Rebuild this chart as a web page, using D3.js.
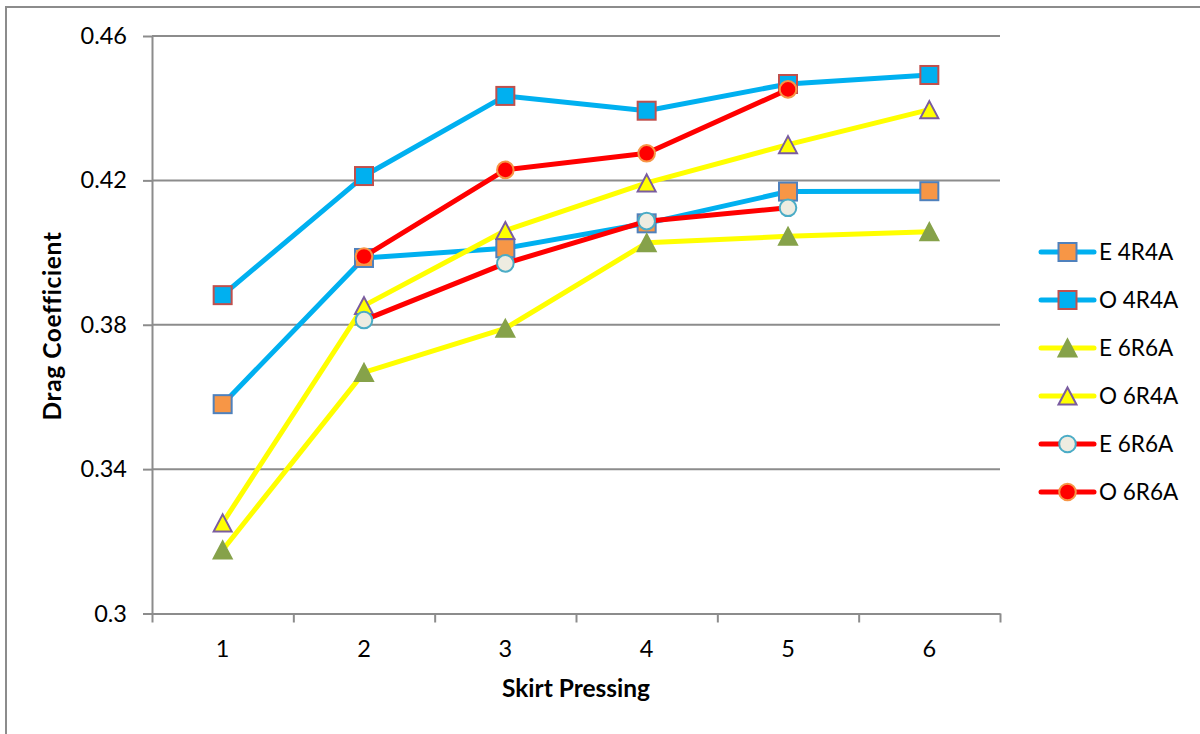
<!DOCTYPE html>
<html>
<head>
<meta charset="utf-8">
<script src="https://cdn.jsdelivr.net/npm/d3@7"></script>
<style>
  html, body { margin: 0; padding: 0; background: #fff; }
  svg { display: block; font-family: Lato, "Open Sans", sans-serif; }
</style>
</head>
<body>
<svg id="chart" width="1200" height="734"></svg>
<script>
// Skirt pressing levels on the x axis
const categories = [1, 2, 3, 4, 5, 6];

// Drag coefficient per series (null = not measured)
const e4R4A     = [0.358, 0.3985, 0.4012, 0.4081, 0.4169, 0.417];
const o4R4A     = [0.3882, 0.4212, 0.4434, 0.4393, 0.4467, 0.4492];
const e6R6Atri  = [0.3176, 0.3668, 0.379, 0.4027, 0.4045, 0.4058];
const o6R4A     = [0.3251, 0.3853, 0.4061, 0.4193, 0.4299, 0.4396];
const e6R6Acirc = [null, 0.3813, 0.397, 0.4087, 0.4124, null];
const o6R6A     = [null, 0.3989, 0.4229, 0.4275, 0.4452, null];

const yTicks = [0.3, 0.34, 0.38, 0.42, 0.46];
const yTickLabels = ["0.3", "0.34", "0.38", "0.42", "0.46"];

const seriesNames = ["E 4R4A", "O 4R4A", "E 6R6A", "O 6R4A", "E 6R6A", "O 6R6A"];
const seriesValues = [e4R4A, o4R4A, e6R6Atri, o6R4A, e6R6Acirc, o6R6A];

// Styling per series
const styles = [
  { line: "#00B0F0", shape: "square",   fill: "#F79646", stroke: "#4F81BD" },
  { line: "#00B0F0", shape: "square",   fill: "#00B0F0", stroke: "#C0504D" },
  { line: "#FFFF00", shape: "triangle", fill: "#86A24A", stroke: "#86A24A" },
  { line: "#FFFF00", shape: "triangle", fill: "#FFFF00", stroke: "#7A5CA0" },
  { line: "#FF0000", shape: "circle",   fill: "#EEECE1", stroke: "#4BACC6" },
  { line: "#FF0000", shape: "circle",   fill: "#FF0000", stroke: "#F79646" }
];

const svg = d3.select("#chart");
const grey = "#8c8c8c";

// outer chart frame
svg.append("rect")
  .attr("x", 6).attr("y", 7).attr("width", 1220).attr("height", 760)
  .attr("fill", "none").attr("stroke", grey).attr("stroke-width", 2);

const plot = { left: 152, right: 1000, top: 36, bottom: 613.5 };

const x = d3.scaleBand().domain(categories).range([plot.left, plot.right]).padding(0);
const xEdge = d3.scaleLinear().domain([0, categories.length]).range([plot.left, plot.right]);
const y = d3.scaleLinear().domain([0.3, 0.46]).range([plot.bottom, plot.top]);
const cx = d => x(d) + x.bandwidth() / 2;

// horizontal gridlines
svg.append("g").selectAll("line")
  .data(yTicks.filter(t => t > 0.3))
  .join("line")
  .attr("x1", plot.left).attr("x2", plot.right)
  .attr("y1", d => y(d)).attr("y2", d => y(d))
  .attr("stroke", grey).attr("stroke-width", 2);

// y axis
const yAxis = svg.append("g")
  .attr("transform", `translate(${plot.left},0)`)
  .call(d3.axisLeft(y).tickValues(yTicks)
    .tickFormat((d, i) => yTickLabels[i])
    .tickSize(9).tickPadding(16).tickSizeOuter(0));
yAxis.select(".domain").attr("stroke", grey).attr("stroke-width", 2);
yAxis.selectAll(".tick line").attr("stroke", grey).attr("stroke-width", 2);
yAxis.selectAll("text").attr("font-size", 23.5).attr("fill", "#000")
  .attr("font-family", "Lato, sans-serif");

// x axis: ticks on category boundaries
const xTickAxis = svg.append("g")
  .attr("transform", `translate(0,${plot.bottom})`)
  .call(d3.axisBottom(xEdge).tickValues(d3.range(categories.length + 1))
    .tickFormat("").tickSize(9).tickSizeOuter(0));
xTickAxis.select(".domain").attr("stroke", grey).attr("stroke-width", 2);
xTickAxis.selectAll(".tick line").attr("stroke", grey).attr("stroke-width", 2);

// x axis labels at category centres
const xLabelAxis = svg.append("g")
  .attr("transform", `translate(0,${plot.bottom})`)
  .call(d3.axisBottom(x).tickSize(0).tickPadding(26.5));
xLabelAxis.select(".domain").remove();
xLabelAxis.selectAll("text").attr("font-size", 23.5).attr("fill", "#000")
  .attr("font-family", "Lato, sans-serif");

// axis titles
svg.append("text")
  .attr("x", (plot.left + plot.right) / 2).attr("y", 697)
  .attr("text-anchor", "middle")
  .attr("font-size", 24.5).attr("font-weight", "bold")
  .text("Skirt Pressing");

svg.append("text")
  .attr("transform", "translate(61,326) rotate(-90)")
  .attr("text-anchor", "middle")
  .attr("font-size", 24.5).attr("font-weight", "bold")
  .attr("letter-spacing", 0.6)
  .text("Drag Coefficient");

// marker drawing
function drawMarker(g, shape, st) {
  if (shape === "square") {
    g.append("rect").attr("x", -9).attr("y", -9).attr("width", 18).attr("height", 18)
      .attr("fill", st.fill).attr("stroke", st.stroke).attr("stroke-width", 2);
  } else if (shape === "triangle") {
    g.append("path").attr("d", "M0,-8.5L9,8.5L-9,8.5Z")
      .attr("fill", st.fill).attr("stroke", st.stroke).attr("stroke-width", 2)
      .attr("stroke-linejoin", "miter");
  } else {
    g.append("circle").attr("r", 8.3)
      .attr("fill", st.fill).attr("stroke", st.stroke).attr("stroke-width", 2);
  }
}

const line = d3.line()
  .defined(d => d.v !== null)
  .x(d => cx(d.c))
  .y(d => y(d.v));

// series: line then markers, drawn in legend order
seriesValues.forEach((vals, i) => {
  const st = styles[i];
  const pts = categories.map((c, j) => ({ c, v: vals[j] }));
  const g = svg.append("g");
  g.append("path").datum(pts)
    .attr("d", line)
    .attr("fill", "none").attr("stroke", st.line).attr("stroke-width", 5)
    .attr("stroke-linejoin", "round").attr("stroke-linecap", "round");
  pts.filter(p => p.v !== null).forEach(p => {
    const m = g.append("g").attr("transform", `translate(${cx(p.c)},${y(p.v)})`);
    drawMarker(m, st.shape, st);
  });
});

// legend
const legend = svg.append("g");
seriesNames.forEach((name, i) => {
  const st = styles[i];
  const ly = 252 + i * 48;
  const item = legend.append("g").attr("transform", `translate(0,${ly})`);
  item.append("line").attr("x1", 1041).attr("x2", 1094).attr("y1", 0).attr("y2", 0)
    .attr("stroke", st.line).attr("stroke-width", 5).attr("stroke-linecap", "round");
  drawMarker(item.append("g").attr("transform", "translate(1067.5,0)"), st.shape, st);
  item.append("text").attr("x", 1099).attr("y", 0).attr("dy", "0.36em")
    .attr("font-size", 22.5).attr("fill", "#000").text(name);
});
</script>
</body>
</html>
